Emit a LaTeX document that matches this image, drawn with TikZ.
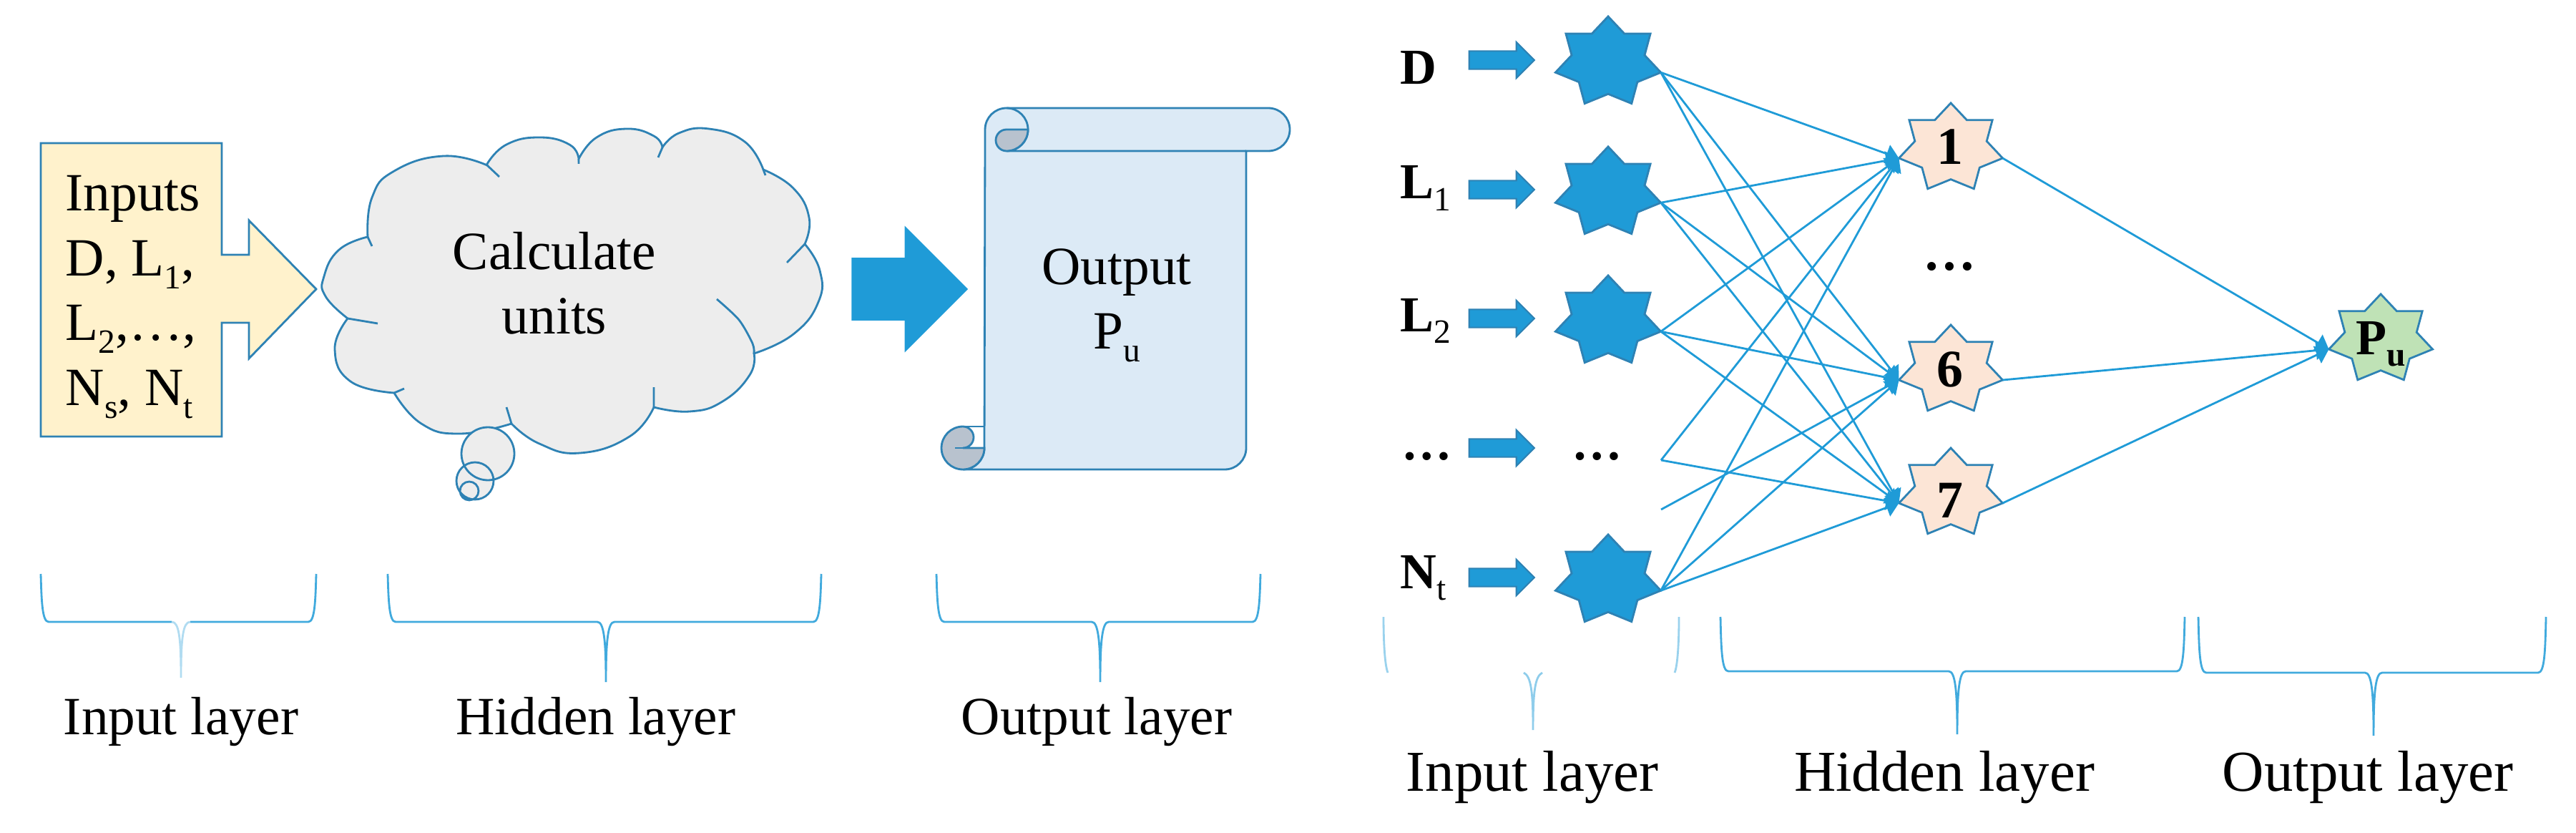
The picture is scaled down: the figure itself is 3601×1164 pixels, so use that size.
\documentclass[tikz,border=0pt]{standalone}
\usepackage{fontspec}
\setmainfont{Liberation Serif}
\usepackage{tikz}
\usetikzlibrary{shapes,shapes.geometric,shapes.arrows,arrows.meta,positioning}

\definecolor{wireblue}{HTML}{1F9BD7}
\definecolor{edgeblue}{HTML}{2E82B4}
\definecolor{boxyellow}{HTML}{FFF2CC}
\definecolor{cloudgrey}{HTML}{EDEDED}
\definecolor{scrollblue}{HTML}{DCEAF6}
\definecolor{curlgrey}{HTML}{B8C2CE}
\definecolor{peach}{HTML}{FCE5D6}
\definecolor{leaf}{HTML}{BFE2B6}

\newcommand{\lowsub}[1]{\raisebox{-0.24em}{\fontsize{13.5}{13.5}\selectfont #1}}

\begin{document}
\begin{tikzpicture}[
    x=0.01cm, y=-0.01cm,
    neuron/.style={star, star points=7, star point ratio=1.445, inner sep=0pt, outer sep=0pt, xscale=1.18, transform shape, draw=edgeblue, line width=0.8pt},
    inputstar/.style={neuron, fill=wireblue, minimum size=1.28cm},
    hiddenstar/.style={neuron, fill=peach, minimum size=1.26cm},
    outputstar/.style={neuron, fill=leaf, minimum size=1.26cm},
    layerlabel/.style={anchor=base, inner sep=0pt, font=\fontsize{21.4}{25.7}\selectfont},
    rightlabel/.style={anchor=base, inner sep=0pt, font=\fontsize{23}{27}\selectfont},
    bodytext/.style={inner sep=0pt, align=center, font=\fontsize{21.4}{25.7}\selectfont},
    feature/.style={anchor=base west, inner sep=0pt, font=\fontsize{20}{24}\selectfont\bfseries},
    digit/.style={anchor=base, inner sep=0pt, font=\fontsize{21}{25}\selectfont\bfseries},
    smallarrow/.style={single arrow, inner xsep=0pt, inner ysep=0.115cm, outer sep=0pt, minimum height=0.91cm, single arrow head extend=0.125cm, fill=wireblue, draw=edgeblue, line width=0.6pt},
    bigarrow/.style={single arrow, inner xsep=0pt, inner ysep=0.425cm, outer sep=0pt, minimum height=1.61cm, single arrow head extend=0.435cm, fill=wireblue, draw=wireblue},
    link/.style={draw=wireblue, line width=0.8pt, -{Stealth[length=1.8mm, width=2.6mm, inset=0pt]}},
    shape line/.style={draw=edgeblue, line width=0.8pt},
    bracket/.style={draw=wireblue!85, line width=0.8pt}
]

% left panel
\draw[shape line, fill=boxyellow] (57,200) -- (310,200) -- (310,356) -- (348,356) -- (348,308) -- (442,404)
    -- (348,501) -- (348,451) -- (310,451) -- (310,610) -- (57,610) -- cycle;
\node[bodytext, align=left, anchor=north west] (inputs) at (91,245) {Inputs\\D, L\lowsub{1},\\L\lowsub{2},…,\\N\lowsub{s}, N\lowsub{t}};

\draw[shape line, fill=cloudgrey]
    plot[smooth, tension=0.8] coordinates {(514,331) (520,276) (551,239) (620,218) (681,231)}
    -- plot[smooth, tension=0.8] coordinates {(681,229) (708,202) (754,192) (796,202) (809,222)}
    -- plot[smooth, tension=0.8] coordinates {(809,222) (834,192) (876,180) (914,190) (926,206)}
    -- plot[smooth, tension=0.8] coordinates {(926,206) (949,186) (991,180) (1041,198) (1067,237)}
    -- plot[smooth, tension=0.8] coordinates {(1067,237) (1109,263) (1131,304) (1125,341)}
    -- plot[smooth, tension=0.8] coordinates {(1125,341) (1146,378) (1144,422) (1109,467) (1054,494)}
    -- plot[smooth, tension=0.8] coordinates {(1054,494) (1048,524) (1010,561) (964,575) (914,569)}
    -- plot[smooth, tension=0.8] coordinates {(914,569) (880,610) (811,633) (754,620) (715,592)}
    -- plot[smooth, tension=0.8] coordinates {(715,592) (643,606) (589,592) (551,549)}
    -- plot[smooth, tension=0.8] coordinates {(551,549) (490,533) (468,488) (486,445)}
    -- plot[smooth, tension=0.8] coordinates {(486,445) (455,414) (453,386) (474,349) (514,331)} -- cycle;
% the short curls of the cloud
\draw[shape line] (514,331) -- (520,344) (681,231) -- (698,247) (809,222) -- (809,229) (926,206) -- (920,220)
    (1067,237) -- (1070,245) (1125,341) -- (1100,367) (914,569) -- (914,541) (715,592) -- (708,569)
    (551,549) -- (565,543) (486,445) -- (528,452);
\draw[shape line] plot[smooth] coordinates {(1002,418) (1033,447) (1052,480) (1054,494)};
\fill[cloudgrey] (682,634) circle[radius=37] (664,672) circle[radius=26] (656,686) circle[radius=13];
\draw[shape line] (682,634) circle[radius=37] (664,672) circle[radius=26] (656,686) circle[radius=13];
\node[bodytext] (calc) at (775,396) {Calculate\\units};

\node[bigarrow] (flow) at (1250,404) {};

\draw[shape line, fill=scrollblue] (1377,181) arc[start angle=180, end angle=270, radius=30] -- (1773,151)
    arc[start angle=270, end angle=450, radius=30] -- (1742,211) -- (1742,626)
    arc[start angle=0, end angle=90, radius=30] -- (1346,656) arc[start angle=90, end angle=0, radius=30] -- cycle;
\draw[shape line] (1407,151) arc[start angle=270, end angle=450, radius=30] -- (1742,211);
\draw[shape line, fill=curlgrey] (1437,181) -- (1407,181) arc[start angle=270, end angle=90, radius=15]
    arc[start angle=90, end angle=0, radius=30] -- cycle;
\draw[shape line, fill=curlgrey] (1346,596) arc[start angle=270, end angle=90, radius=30]
    arc[start angle=90, end angle=0, radius=30] -- (1346,626) arc[start angle=90, end angle=-90, radius=15] -- cycle;
\draw[shape line] (1346,596) -- (1377,596) (1335,626) -- (1377,626);
\node[bodytext] (output) at (1561,427) {Output\\P\lowsub{u}};

\node[layerlabel] (linput) at (253,1026) {Input layer};
\node[layerlabel] (lhidden) at (833,1026) {Hidden layer};
\node[layerlabel] (loutput) at (1533,1026) {Output layer};

% brackets under both panels
\foreach \xl/\xm/\xr/\yt/\yb/\ye in {542/847/1148/802/869/953, 1309/1538/1762/802/869/953, 2405/2736/3054/862/938/1026, 3073/3318/3559/862/940/1028}{
    \draw[bracket] (\xl,\yt) .. controls (\xl+1,\yb-30) and (\xl+2,\yb) .. (\xl+11,\yb) -- (\xm-12,\yb)
        .. controls (\xm-3,\yb) and (\xm,\yb+25) .. (\xm,\ye)
        .. controls (\xm,\yb+25) and (\xm+3,\yb) .. (\xm+12,\yb) -- (\xr-11,\yb)
        .. controls (\xr-2,\yb) and (\xr-1,\yb-30) .. (\xr,\yt);
}
\draw[bracket] (57,802) .. controls (58,840) and (59,869) .. (68,869) -- (240,869);
\draw[bracket] (442,802) .. controls (441,840) and (440,869) .. (431,869) -- (266,869);
\draw[bracket, draw=wireblue!35] (240,869) .. controls (250,869) and (253,890) .. (253,947) .. controls (253,890) and (256,869) .. (266,869);
\draw[bracket, draw=wireblue!45] (1934,862) .. controls (1934,900) and (1936,930) .. (1940,940);
\draw[bracket, draw=wireblue!45] (2347,862) .. controls (2347,900) and (2345,930) .. (2341,940);
\draw[bracket, draw=wireblue!50] (2130,940) .. controls (2140,945) and (2143,965) .. (2143,1020) .. controls (2143,965) and (2146,945) .. (2156,940);

% right panel
\node[feature] (fd) at (1957,118) {D};
\node[feature] (fl1) at (1957,278) {L\lowsub{\mdseries 1}};
\node[feature] (fl2) at (1957,463) {L\lowsub{\mdseries 2}};
\node[feature] (fdots) at (1959,642) {…};
\node[feature] (fnt) at (1957,822) {N\lowsub{\mdseries t}};

\node[smallarrow] (ad) at (2093,84) {};
\node[smallarrow] (al1) at (2093,265) {};
\node[smallarrow] (al2) at (2093,445) {};
\node[smallarrow] (adots) at (2093,626) {};
\node[smallarrow] (ant) at (2093,807) {};

\node[inputstar] (d) at (2248,87) {};
\node[inputstar] (l1) at (2248,269) {};
\node[inputstar] (l2) at (2248,449) {};
\node[feature] (idots) at (2197,642) {…};
\node[inputstar] (nt) at (2248,811) {};
\coordinate (m1) at (2322,643);
\coordinate (m2) at (2322,712);

\node[hiddenstar] (h1) at (2727,207) {};
\node[hiddenstar] (h6) at (2727,517) {};
\node[hiddenstar] (h7) at (2727,689) {};
\node[digit] (t1) at (2726,230) {1};
\node[digit] (hdots) at (2725,378) {…};
\node[digit] (t6) at (2726,540) {6};
\node[digit] (t7) at (2726,723) {7};

\node[outputstar] (pu) at (3328,474) {};
\node[feature] (tpu) at (3293,495) {P\lowsub{u}};

\foreach \a in {d,l1,l2,nt}{
    \foreach \b in {h1,h6,h7}{
        \draw[link] (\a.outer point 6) -- (\b.outer point 3);
    }
}
\draw[link] (m1) -- (h1.outer point 3);
\draw[link] (m1) -- (h7.outer point 3);
\draw[link] (m2) -- (h6.outer point 3);
\foreach \b in {h1,h6,h7}{
    \draw[link] (\b.outer point 6) -- (pu.outer point 3);
}

\node[rightlabel] (rinput) at (2142,1105) {Input layer};
\node[rightlabel] (rhidden) at (2718,1105) {Hidden layer};
\node[rightlabel] (routput) at (3310,1105) {Output layer};

\useasboundingbox (0,0) rectangle (3601,1164);
\end{tikzpicture}
\end{document}
